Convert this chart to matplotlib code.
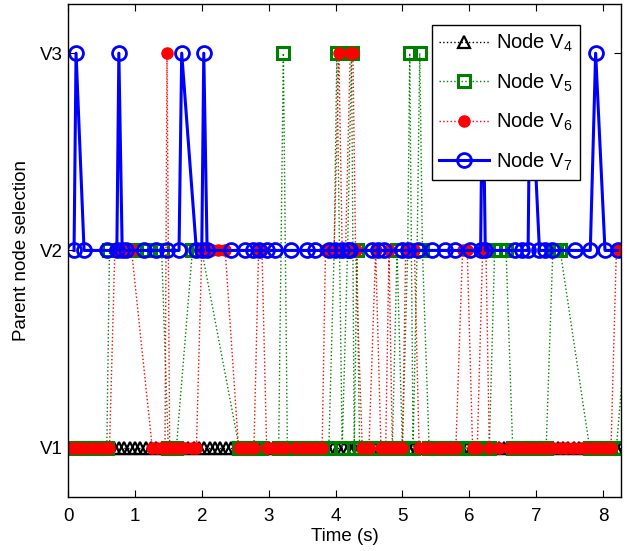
import matplotlib
matplotlib.use('Agg')
from matplotlib import pyplot as plt

plt.rcParams['font.family'] = ['Liberation Sans', 'DejaVu Sans']
plt.rcParams['mathtext.fontset'] = 'custom'
plt.rcParams['mathtext.rm'] = 'Liberation Sans'
plt.rcParams['mathtext.it'] = 'Liberation Sans'

# parent selection: 1 = V1, 2 = V2, 3 = V3
v4_t = [0.12, 0.2, 0.28, 0.36, 0.44, 0.52, 0.6, 0.68, 0.76, 0.84, 0.92, 1.0,
        1.08, 1.16, 1.24, 1.32, 1.4, 1.48, 1.56, 1.64, 1.72, 1.8, 1.88, 1.96,
        2.04, 2.12, 2.2, 2.28, 2.36, 2.44, 2.52, 2.6, 2.68, 2.76, 2.84, 2.92,
        3.0, 3.08, 3.16, 3.24, 3.32, 3.4, 3.48, 3.56, 3.64, 3.72, 3.8, 3.88,
        3.96, 4.04, 4.12, 4.2, 4.28, 4.36, 4.44, 4.52, 4.6, 4.68, 4.76, 4.84,
        4.92, 5.0, 5.08, 5.16, 5.24, 5.32, 5.4, 5.48, 5.56, 5.64, 5.72, 5.8,
        5.88, 5.96, 6.04, 6.12, 6.2, 6.28, 6.36, 6.44, 6.52, 6.6, 6.68, 6.76,
        6.84, 6.92, 7.0, 7.08, 7.16, 7.24, 7.32, 7.4, 7.48, 7.56, 7.64, 7.72,
        7.8, 7.88, 7.96, 8.04, 8.12, 8.2, 8.27]
v4_p = [1] * len(v4_t)

v5_t = [0.12, 0.2, 0.3, 0.4, 0.5, 0.58, 0.62, 0.9, 1.0, 1.1, 1.2, 1.3, 1.4,
        1.5, 1.56, 1.62, 1.86, 1.95, 2.0, 2.56, 2.64, 2.72, 2.8, 2.88, 3.15,
        3.22, 3.28, 3.4, 3.5, 3.6, 3.7, 3.8, 3.9, 3.98, 4.02, 4.06, 4.1,
        4.18, 4.24, 4.28, 4.32, 4.36, 4.45, 4.55, 4.65, 4.75, 4.85, 4.92,
        5.0, 5.08, 5.11, 5.16, 5.22, 5.26, 5.3, 5.4, 5.5, 5.6, 5.7, 5.8, 5.9,
        6.0, 6.1, 6.2, 6.3, 6.38, 6.46, 6.55, 6.65, 6.75, 6.85, 6.95, 7.05,
        7.15, 7.25, 7.3, 7.36, 7.8, 7.9, 8.0, 8.1, 8.2, 8.45]
v5_p = [1, 1, 1, 1, 1, 1, 2, 2, 2, 2, 2, 2, 2,
        1, 1, 1, 2, 2, 2, 1, 1, 1, 1, 1, 1,
        3, 1, 1, 1, 1, 1, 1, 1, 2, 3, 2, 1,
        2, 3, 1, 2, 1, 1, 1, 1, 1, 1, 2,
        1, 2, 3, 1, 2, 3, 2, 1, 1, 1, 1, 1, 1,
        1, 1, 1, 1, 2, 2, 2, 1, 1, 1, 1, 1,
        1, 2, 2, 2, 1, 1, 1, 1, 1, 2]

v6_t = [0.0, 0.08, 0.15, 0.22, 0.35, 0.45, 0.55, 0.62, 0.7, 0.78, 0.85,
        0.95, 1.26, 1.33, 1.4, 1.45, 1.48, 1.52, 1.6, 1.67, 1.75, 1.85, 1.92,
        2.0, 2.08, 2.15, 2.25, 2.35, 2.55, 2.62, 2.7, 2.78, 2.85, 2.9, 2.97,
        3.05, 3.15, 3.25, 3.4, 3.5, 3.6, 3.7, 3.8, 3.85, 3.92, 3.98, 4.05,
        4.1, 4.15, 4.22, 4.26, 4.3, 4.4, 4.5, 4.6, 4.68, 4.75, 4.8, 4.85,
        4.92, 5.0, 5.05, 5.12, 5.18, 5.25, 5.32, 5.38, 5.5, 5.58, 5.65, 5.72,
        5.8, 5.9, 5.97, 6.05, 6.12, 6.2, 6.25, 6.3, 6.45, 6.6, 6.68, 6.75,
        6.85, 6.95, 7.05, 7.15, 7.25, 7.35, 7.45, 7.55, 7.65, 7.75, 7.85,
        7.95, 8.05, 8.12, 8.2, 8.25]
v6_p = [1, 1, 1, 1, 1, 1, 1, 1, 2, 2, 2,
        2, 1, 1, 1, 1, 3, 1, 1, 1, 1, 1, 1,
        2, 2, 2, 2, 2, 1, 1, 1, 1, 2, 2, 1,
        1, 1, 1, 1, 1, 1, 1, 1, 2, 2, 2, 3,
        2, 2, 3, 3, 2, 1, 1, 2, 1, 1, 2, 1,
        1, 1, 2, 2, 2, 1, 1, 1, 1, 1, 1, 1,
        1, 2, 2, 1, 1, 2, 2, 1, 1, 1, 1, 1,
        1, 1, 1, 1, 1, 1, 1, 1, 1, 1, 1,
        1, 1, 1, 2, 2]

v7_t = [0.09, 0.12, 0.24, 0.58, 0.73, 0.76, 0.81, 0.87, 1.14, 1.32, 1.48,
        1.66, 1.7, 1.92, 2.0, 2.03, 2.08, 2.44, 2.64, 2.76, 2.86, 2.97, 3.09,
        3.34, 3.57, 3.69, 3.91, 3.99, 4.09, 4.18, 4.21, 4.55, 4.63, 4.73,
        4.99, 5.08, 5.23, 5.44, 5.63, 5.78, 6.01, 6.17, 6.2, 6.24, 6.68,
        6.79, 6.88, 6.91, 7.05, 7.13, 7.24, 7.58, 7.81, 7.89, 8.03, 8.22]
v7_p = [2, 3, 2, 2, 2, 3, 2, 2, 2, 2, 2,
        2, 3, 2, 2, 3, 2, 2, 2, 2, 2, 2, 2,
        2, 2, 2, 2, 2, 2, 2, 2, 2, 2, 2,
        2, 2, 2, 2, 2, 2, 2, 2, 3, 2, 2,
        2, 2, 3, 2, 2, 2, 2, 2, 3, 2, 2]

fig = plt.figure(figsize=(6.27, 5.51), dpi=100)
ax = fig.add_axes([0.1085, 0.098, 0.882, 0.895])

ax.plot(v4_t, v4_p, ':', color='k', lw=1, marker='^', ms=9, mfc='none',
        mec='k', mew=1.6, label='Node V$_4$')
ax.plot(v5_t, v5_p, ':', color='#008000', lw=1, marker='s', ms=9, mfc='none',
        mec='#008000', mew=2.2, label='Node V$_5$')
ax.plot(v6_t, v6_p, ':', color='r', lw=1, marker='o', ms=8, mfc='r',
        mec='r', label='Node V$_6$')
ax.plot(v7_t, v7_p, '-', color='b', lw=2.2, marker='o', ms=10, mfc='none',
        mec='b', mew=2, label='Node V$_7$')

ax.set_xlim(0, 8.27)
ax.set_ylim(0.75, 3.25)
ax.set_xticks(range(9))
ax.set_yticks([1, 2, 3])
ax.set_yticklabels(['V1', 'V2', 'V3'])
ax.tick_params(direction='in', top=True, right=True, labelsize=13.5, length=5)
ax.tick_params(axis='x', pad=8)
for s in ax.spines.values():
    s.set_linewidth(1)
ax.set_xlabel('Time (s)', fontsize=13.5, labelpad=2)
ax.set_ylabel('Parent node selection', fontsize=13.5, labelpad=7)

leg = ax.legend(loc='upper right', bbox_to_anchor=(0.926, 0.957), numpoints=1,
                fontsize=14.5, handlelength=2.5, labelspacing=0.85,
                fancybox=False, framealpha=1, edgecolor='k', borderpad=0.35,
                handletextpad=0.35, borderaxespad=0)
leg.get_frame().set_linewidth(1)

fig.savefig('out.png', dpi=100)
